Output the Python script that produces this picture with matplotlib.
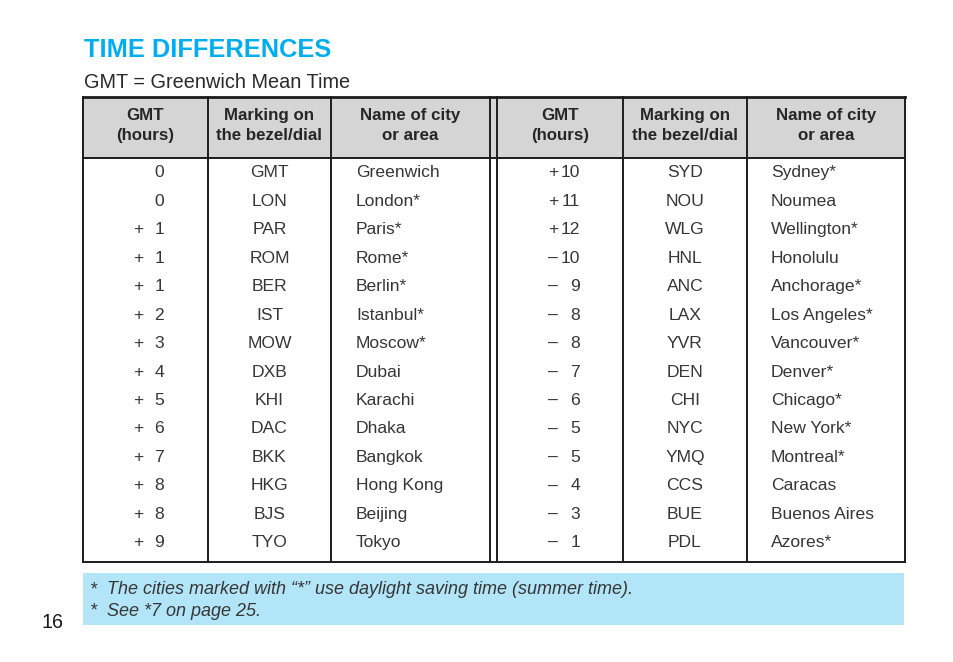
import matplotlib
matplotlib.use("Agg")
import matplotlib.pyplot as plt
from matplotlib.patches import Rectangle

# ---------------- data ----------------
title = "TIME DIFFERENCES"
subtitle = "GMT = Greenwich Mean Time"
header_labels = ["GMT\n(hours)", "Marking on\nthe bezel/dial", "Name of city\nor area"]

left_gmt = [0, 0, 1, 1, 1, 2, 3, 4, 5, 6, 7, 8, 8, 9]
left_code = ["GMT", "LON", "PAR", "ROM", "BER", "IST", "MOW", "DXB", "KHI", "DAC",
             "BKK", "HKG", "BJS", "TYO"]
left_city = ["Greenwich", "London*", "Paris*", "Rome*", "Berlin*", "Istanbul*", "Moscow*",
             "Dubai", "Karachi", "Dhaka", "Bangkok", "Hong Kong", "Beijing", "Tokyo"]

right_gmt = [10, 11, 12, -10, -9, -8, -8, -7, -6, -5, -5, -4, -3, -1]
right_code = ["SYD", "NOU", "WLG", "HNL", "ANC", "LAX", "YVR", "DEN", "CHI", "NYC",
              "YMQ", "CCS", "BUE", "PDL"]
right_city = ["Sydney*", "Noumea", "Wellington*", "Honolulu", "Anchorage*", "Los Angeles*",
              "Vancouver*", "Denver*", "Chicago*", "New York*", "Montreal*", "Caracas",
              "Buenos Aires", "Azores*"]

footnotes = ["The cities marked with \u201c*\u201d use daylight saving time (summer time).",
             "See *7 on page 25."]
page_number = "16"

# ---------------- styling / layout ----------------
W, H = 954, 662
TXT = "#363636"
HEAD_TXT = "#262626"
LINE = "#1c1c1c"
HEAD_BG = "#d5d5d5"
BLUE = "#00aeef"
NOTE_BG = "#b3e5f8"
FONT = "Liberation Sans"

fig = plt.figure(figsize=(W / 100, H / 100), dpi=100)
ax = fig.add_axes([0, 0, 1, 1])
ax.set_xlim(0, W)
ax.set_ylim(H, 0)
ax.axis("off")

top, head_bot, bot = 97, 158, 562
row_c0, row_step = 171, 28.46
left_cols = [83, 208, 331, 490]
right_cols = [497, 623, 747, 905]

# title and subtitle
ax.text(84, 57, title, color=BLUE, fontsize=18.3, fontweight="bold", family=FONT,
        va="baseline", ha="left")
ax.text(84, 88.5, subtitle, color="#2a2a2a", fontsize=14.3, family=FONT, va="baseline",
        ha="left")

# header background
ax.add_patch(Rectangle((left_cols[0], top), right_cols[-1] - left_cols[0], head_bot - top,
                       facecolor=HEAD_BG, edgecolor="none", zorder=1))

lw = 1.4
# horizontal lines
ax.plot([left_cols[0], right_cols[-1]], [top, top], color=LINE, lw=2.0, zorder=3,
        solid_capstyle="projecting")
for y in (head_bot, bot):
    ax.plot([left_cols[0], right_cols[-1]], [y, y], color=LINE, lw=lw, zorder=3,
            solid_capstyle="projecting")
# vertical lines
for x in left_cols + right_cols:
    ax.plot([x, x], [top, bot], color=LINE, lw=lw, zorder=3)


def draw_table(cols, gmt, codes, cities, sign_x, num_x, city_x):
    # headers
    for i, lab in enumerate(header_labels):
        cx = (cols[i] + cols[i + 1]) / 2
        l1, l2 = lab.split("\n")
        ax.text(cx, 120, l1, ha="center", va="baseline", fontsize=12.2, fontweight="bold",
                family=FONT, color=HEAD_TXT)
        ax.text(cx, 140, l2, ha="center", va="baseline", fontsize=12.2, fontweight="bold",
                family=FONT, color=HEAD_TXT)
    for r, (g, c, city) in enumerate(zip(gmt, codes, cities)):
        yb = row_c0 + r * row_step + 6.3
        if g != 0:
            sign = "+" if g > 0 else "\u2013"
            ax.text(sign_x, yb, sign, ha="left", va="baseline", fontsize=12.6, family=FONT,
                    color=TXT)
        ax.text(num_x, yb, str(abs(g)), ha="right", va="baseline", fontsize=12.6,
                family=FONT, color=TXT)
        ax.text((cols[1] + cols[2]) / 2, yb, c, ha="center", va="baseline", fontsize=12.6,
                family=FONT, color=TXT)
        ax.text(city_x, yb, city, ha="left", va="baseline", fontsize=12.6, family=FONT,
                color=TXT)


draw_table(left_cols, left_gmt, left_code, left_city, 133, 164, 356)
draw_table(right_cols, right_gmt, right_code, right_city, 548, 580, 771)

# footnote box
ax.add_patch(Rectangle((83, 573), 821, 52, facecolor=NOTE_BG, edgecolor="none", zorder=1))
for i, note in enumerate(footnotes):
    yb = 594 + i * 21.7
    ax.text(90, yb, "*", ha="left", va="baseline", fontsize=13.0, style="italic",
            family=FONT, color=TXT)
    ax.text(107, yb, note, ha="left", va="baseline", fontsize=13.0, style="italic",
            family=FONT, color=TXT)

# page number
ax.text(42, 628, page_number, ha="left", va="baseline", fontsize=14.2, family=FONT,
        color="#1a1a1a")

fig.savefig("out.png", dpi=100, facecolor="white")
